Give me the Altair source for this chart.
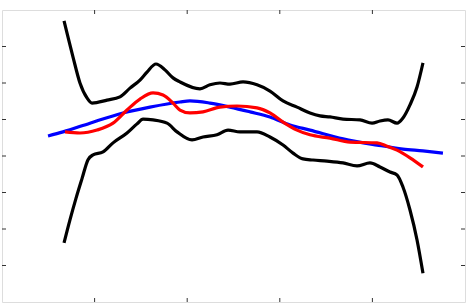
import altair as alt
import pandas as pd

# Upper band (black)
up_x = [0.670, 0.767, 0.842, 0.918, 0.972, 1.134, 1.274, 1.382, 1.490, 1.566, 1.663, 1.760, 1.847, 1.922,
        2.138, 2.246, 2.354, 2.462, 2.603, 2.754, 2.894, 3.035, 3.186, 3.326, 3.434, 3.542, 3.683, 3.866,
        3.996, 4.082, 4.168, 4.266, 4.330, 4.406, 4.482, 4.546]
up_y = [7.70, 6.71, 6.00, 5.59, 5.45, 5.53, 5.62, 5.86, 6.08, 6.30, 6.52, 6.36, 6.14, 6.03,
        5.84, 5.95, 6.00, 5.97, 6.03, 5.95, 5.78, 5.51, 5.34, 5.18, 5.10, 5.07, 5.01, 4.99,
        4.90, 4.96, 4.99, 4.90, 5.04, 5.40, 5.89, 6.55]

# Lower band (black)
lo_x = [0.670, 0.734, 0.799, 0.864, 0.929, 0.983, 1.091, 1.199, 1.350, 1.458, 1.523, 1.631, 1.782, 1.890,
        2.052, 2.171, 2.322, 2.441, 2.570, 2.754, 2.894, 3.035, 3.143, 3.251, 3.359, 3.510, 3.683, 3.834,
        3.974, 4.082, 4.190, 4.266, 4.330, 4.406, 4.482, 4.546]
lo_y = [1.62, 2.25, 2.84, 3.38, 3.90, 4.03, 4.11, 4.36, 4.63, 4.88, 5.01, 4.99, 4.90, 4.66,
        4.44, 4.52, 4.58, 4.71, 4.66, 4.66, 4.52, 4.30, 4.08, 3.92, 3.89, 3.86, 3.81, 3.73,
        3.81, 3.70, 3.56, 3.48, 3.15, 2.52, 1.70, 0.79]

# Blue fit
bl_x = [0.497, 0.659, 0.950, 1.307, 1.598, 1.922, 2.030, 2.246, 2.462, 2.678, 2.894, 3.110, 3.326,
        3.683, 4.050, 4.330, 4.546, 4.762]
bl_y = [4.55, 4.66, 4.90, 5.18, 5.34, 5.48, 5.51, 5.45, 5.34, 5.21, 5.07, 4.85, 4.71,
        4.47, 4.30, 4.19, 4.14, 4.08]

# Red estimate
rd_x = [0.680, 0.842, 1.026, 1.199, 1.350, 1.490, 1.631, 1.739, 1.847, 1.922, 2.030, 2.171, 2.354,
        2.538, 2.754, 2.894, 3.035, 3.186, 3.326, 3.542, 3.758, 4.050, 4.158, 4.266, 4.406, 4.546]
rd_y = [4.66, 4.63, 4.71, 4.90, 5.26, 5.56, 5.73, 5.67, 5.45, 5.26, 5.18, 5.21, 5.34,
        5.37, 5.32, 5.18, 4.93, 4.71, 4.58, 4.49, 4.38, 4.36, 4.27, 4.16, 3.95, 3.70]

x_ticks = [1, 2, 3, 4]
y_ticks = [1, 2, 3, 4, 5, 6, 7]

W, H = 463, 292
xs = alt.Scale(domain=[0, 5], nice=False, zero=False)
ys = alt.Scale(domain=[0, 8], nice=False, zero=False)


def line(xv, yv, color):
    df = pd.DataFrame({"x": xv, "y": yv, "o": list(range(len(xv)))})
    return alt.Chart(df).mark_line(color=color, strokeWidth=3.2, interpolate="monotone", strokeCap="butt").encode(
        x=alt.X("x:Q", scale=xs, axis=None),
        y=alt.Y("y:Q", scale=ys, axis=None),
        order="o:Q",
    )


xt = pd.DataFrame({"t": x_ticks})
yt = pd.DataFrame({"t": y_ticks})
tick_color = "#333333"
xt_bottom = alt.Chart(xt).mark_rule(color=tick_color, strokeWidth=1).encode(
    x=alt.X("t:Q", scale=xs, axis=None), y=alt.value(H), y2=alt.value(H - 4))
xt_top = alt.Chart(xt).mark_rule(color=tick_color, strokeWidth=1).encode(
    x=alt.X("t:Q", scale=xs, axis=None), y=alt.value(0), y2=alt.value(4))
yt_left = alt.Chart(yt).mark_rule(color=tick_color, strokeWidth=1).encode(
    y=alt.Y("t:Q", scale=ys, axis=None), x=alt.value(0), x2=alt.value(4))
yt_right = alt.Chart(yt).mark_rule(color=tick_color, strokeWidth=1).encode(
    y=alt.Y("t:Q", scale=ys, axis=None), x=alt.value(W), x2=alt.value(W - 4))

chart = alt.layer(
    xt_bottom, xt_top, yt_left, yt_right,
    line(up_x, up_y, "#000000"),
    line(lo_x, lo_y, "#000000"),
    line(bl_x, bl_y, "#0000ff"),
    line(rd_x, rd_y, "#ff0000"),
).properties(
    width=W, height=H,
    padding={"left": 2, "top": 10, "right": 3, "bottom": 4},
    autosize=alt.AutoSizeParams(type="none"),
).configure_view(
    stroke="#222222", strokeWidth=1.5
).configure(background="white")

chart.save("out.html", embed_options={"renderer": "svg", "actions": False})
